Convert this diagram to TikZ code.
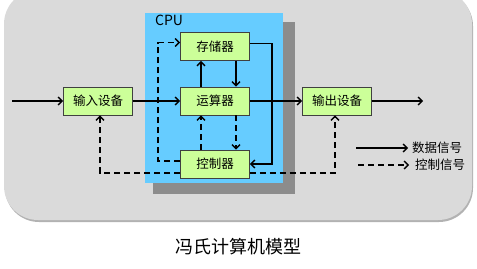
\documentclass[tikz,border=0pt]{standalone}
\usepackage{fontspec}
\setmainfont{Noto Sans CJK SC}
\usetikzlibrary{arrows.meta,positioning}
\definecolor{bggray}{HTML}{DADADA}
\definecolor{cpublue}{HTML}{66CCFF}
\definecolor{unitgreen}{HTML}{CCFF99}
\begin{document}
\begin{tikzpicture}[
            x=1pt, y=-1pt,
            >={Straight Barb[length=4pt,width=8pt,line width=1.4pt]},
            unit/.style={rectangle, draw=black!75, line width=0.9pt, fill=unitgreen, minimum width=69pt, minimum height=28pt, inner sep=0pt, font=\fontsize{12.5}{14}\selectfont},
            datasig/.style={->, line width=1.5pt, black},
            ctrlsig/.style={->, line width=1.5pt, black, dash pattern=on 6pt off 4pt},
            legend/.style={anchor=west, inner sep=0pt, font=\fontsize{12.5}{14}\selectfont}
        ]
        \useasboundingbox (0,0) rectangle (477,268);

        % ==========================================
        % BACKGROUND & CPU PANEL
        % ==========================================
        \fill[black!30, rounded corners=34pt] (5,-8) rectangle (473,222);
        \fill[bggray, rounded corners=34pt] (4,-10) rectangle (472,220);
        \fill[black!45] (153,22) rectangle (295,194);
        \fill[cpublue] (145,13) rectangle (283,183);
        \node[anchor=west, inner sep=0pt, font=\fontsize{14}{16}\selectfont] (cputitle) at (155,20) {CPU};

        % ==========================================
        % UNITS
        % ==========================================
        \node[unit] (mem) at (215,46.5) {存储器};
        \node[unit] (alu) at (215,101) {运算器};
        \node[unit] (ctrl) at (215,164) {控制器};
        \node[unit] (indev) at (98,101) {输入设备};
        \node[unit] (outdev) at (337,101) {输出设备};

        \coordinate (srcin) at (12,101);
        \coordinate (sinkout) at (423,101);

        % ==========================================
        % DATA SIGNALS
        % ==========================================
        \draw[datasig] (srcin) -- (indev.west);
        \draw[datasig] (indev.east) -- (alu.west);
        \draw[datasig] (alu.east) -- (outdev.west);
        \draw[datasig] (outdev.east) -- (sinkout);
        \draw[datasig] ([xshift=-14pt]alu.north) -- ([xshift=-14pt]mem.south);
        \draw[datasig] ([xshift=21pt]mem.south) -- ([xshift=21pt]alu.north);
        \draw[datasig] ([yshift=3pt]mem.east) -- ++(22,0) |- (ctrl.east);

        % ==========================================
        % CONTROL SIGNALS
        % ==========================================
        \draw[ctrlsig] ([xshift=-14pt]ctrl.north) -- ([xshift=-14pt]alu.south);
        \draw[ctrlsig] ([xshift=21pt]alu.south) -- ([xshift=21pt]ctrl.north);
        \draw[ctrlsig] ([yshift=3pt]ctrl.west) -- ++(-22,0) |- ([yshift=4pt]mem.west);
        \draw[ctrlsig] ([yshift=-9pt]ctrl.west) -| ([xshift=2pt]indev.south);
        \draw[ctrlsig] ([yshift=-9pt]ctrl.east) -| ([xshift=-2pt]outdev.south);

        % ==========================================
        % LEGEND & CAPTION
        % ==========================================
        \coordinate (legdata) at (356,148);
        \coordinate (legctrl) at (358,165);
        \node[legend] (datatext) at (412,148) {数据信号};
        \node[legend] (ctrltext) at (415,165) {控制信号};
        \draw[datasig] (legdata) -- ([xshift=-4pt]datatext.west);
        \draw[ctrlsig] (legctrl) -- ([xshift=-6pt]ctrltext.west);

        \node[font=\fontsize{18}{20}\selectfont] (caption) at (238,247) {冯氏计算机模型};

        \end{tikzpicture}
\end{document}
